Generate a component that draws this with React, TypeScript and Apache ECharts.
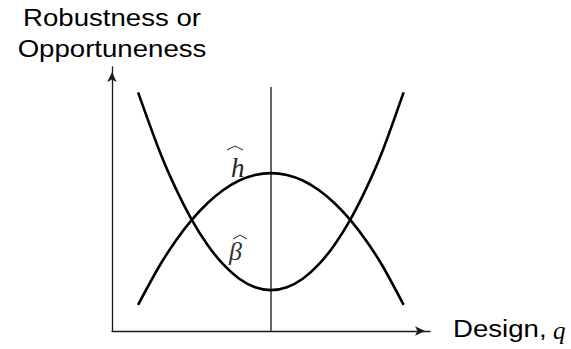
import React, { useEffect, useRef } from "react";
import * as echarts from "echarts";

// Design variable q (abscissa positions, arbitrary units 0..10)
const designQ = [0.82, 1.5, 2, 2.5, 3, 3.5, 4, 4.5, 5, 5.5, 6, 6.5, 7, 7.5, 8, 8.5, 9.17];
// Robustness curve ĥ (peaks at the middle design)
const hHatValues = [0.99, 2.48, 3.41, 4.2, 4.84, 5.34, 5.7, 5.91, 5.98, 5.91, 5.7, 5.34, 4.84, 4.2, 3.41, 2.48, 0.99];
// Opportuneness curve β̂ (minimum at the middle design)
const betaHatValues = [9.04, 6.8, 5.41, 4.23, 3.27, 2.52, 1.98, 1.66, 1.55, 1.66, 1.98, 2.52, 3.27, 4.23, 5.41, 6.8, 9.04];
// Reference design marker
const markerQ = 5;
const markerTop = 9.24;

const yTitleLines = ["Robustness or", "Opportuneness"];
const xTitle = "Design, ";
const xVar = "q";

export default function App() {
  const ref = useRef<HTMLDivElement>(null);
  useEffect(() => {
    if (!ref.current) return;
    const chart = echarts.init(ref.current, undefined, { renderer: "svg" });
    const axisCommon = {
      type: "value" as const,
      min: 0,
      max: 10,
      axisLine: {
        show: true,
        onZero: false,
        lineStyle: { color: "#1a1a1a", width: 1.3 },
        symbol: ["none", "arrow"],
        symbolSize: [7, 10],
        symbolOffset: [0, -5],
      },
      axisTick: { show: false },
      axisLabel: { show: false },
      splitLine: { show: false },
    };
    const sansText = {
      fontFamily: "Liberation Sans, Arial, Helvetica, sans-serif",
      fontSize: 24,
      fill: "#000",
      verticalAlign: "middle",
    };
    chart.setOption({
      animation: false,
      backgroundColor: "#fff",
      grid: { left: 112, top: 67, width: 318, height: 264 },
      xAxis: axisCommon,
      yAxis: axisCommon,
      series: [
        {
          type: "line",
          data: [
            [markerQ, 0],
            [markerQ, markerTop],
          ],
          symbol: "none",
          lineStyle: { color: "#333", width: 1.5 },
          z: 1,
        },
        {
          type: "line",
          name: "h",
          data: designQ.map((q, i) => [q, hHatValues[i]]),
          smooth: 0.3,
          symbol: "none",
          lineStyle: { color: "#000", width: 2.6 },
          z: 2,
        },
        {
          type: "line",
          name: "beta",
          data: designQ.map((q, i) => [q, betaHatValues[i]]),
          smooth: 0.3,
          symbol: "none",
          lineStyle: { color: "#000", width: 2.6 },
          z: 2,
        },
      ],
      graphic: [
        {
          type: "text",
          x: 112,
          y: 17.7,
          scaleX: 1.15,
          style: { ...sansText, text: yTitleLines[0], align: "center" },
        },
        {
          type: "text",
          x: 112,
          y: 48.7,
          scaleX: 1.15,
          style: { ...sansText, text: yTitleLines[1], align: "center" },
        },
        {
          type: "text",
          x: 453,
          y: 328.7,
          scaleX: 1.15,
          style: { ...sansText, text: xTitle, align: "left" },
        },
        {
          type: "text",
          x: 553,
          y: 330,
          style: {
            text: xVar,
            fontFamily: "Liberation Serif, DejaVu Serif, serif",
            fontStyle: "italic",
            fontSize: 25,
            fill: "#000",
            align: "left",
            verticalAlign: "middle",
          },
        },
        {
          type: "text",
          x: 231,
          y: 168,
          style: {
            text: "h",
            fontFamily: "Liberation Serif, DejaVu Serif, serif",
            fontStyle: "italic",
            fontSize: 27,
            fill: "#222",
            align: "left",
            verticalAlign: "middle",
          },
        },
        {
          type: "polyline",
          shape: { points: [[227, 150], [235, 146], [243, 150]] },
          style: { stroke: "#222", lineWidth: 1, fill: "none" },
        },
        {
          type: "text",
          x: 229,
          y: 251,
          style: {
            text: "β",
            fontFamily: "Liberation Serif, DejaVu Serif, serif",
            fontStyle: "italic",
            fontSize: 26,
            fill: "#333",
            align: "left",
            verticalAlign: "middle",
          },
        },
        {
          type: "polyline",
          shape: { points: [[233, 239], [240, 235], [247, 239]] },
          style: { stroke: "#222", lineWidth: 1, fill: "none" },
        },
      ],
    });
    return () => chart.dispose();
  }, []);
  return (
    <div
      ref={ref}
      style={{ position: "fixed", left: 0, top: 0, width: 571, height: 349 }}
    />
  );
}
